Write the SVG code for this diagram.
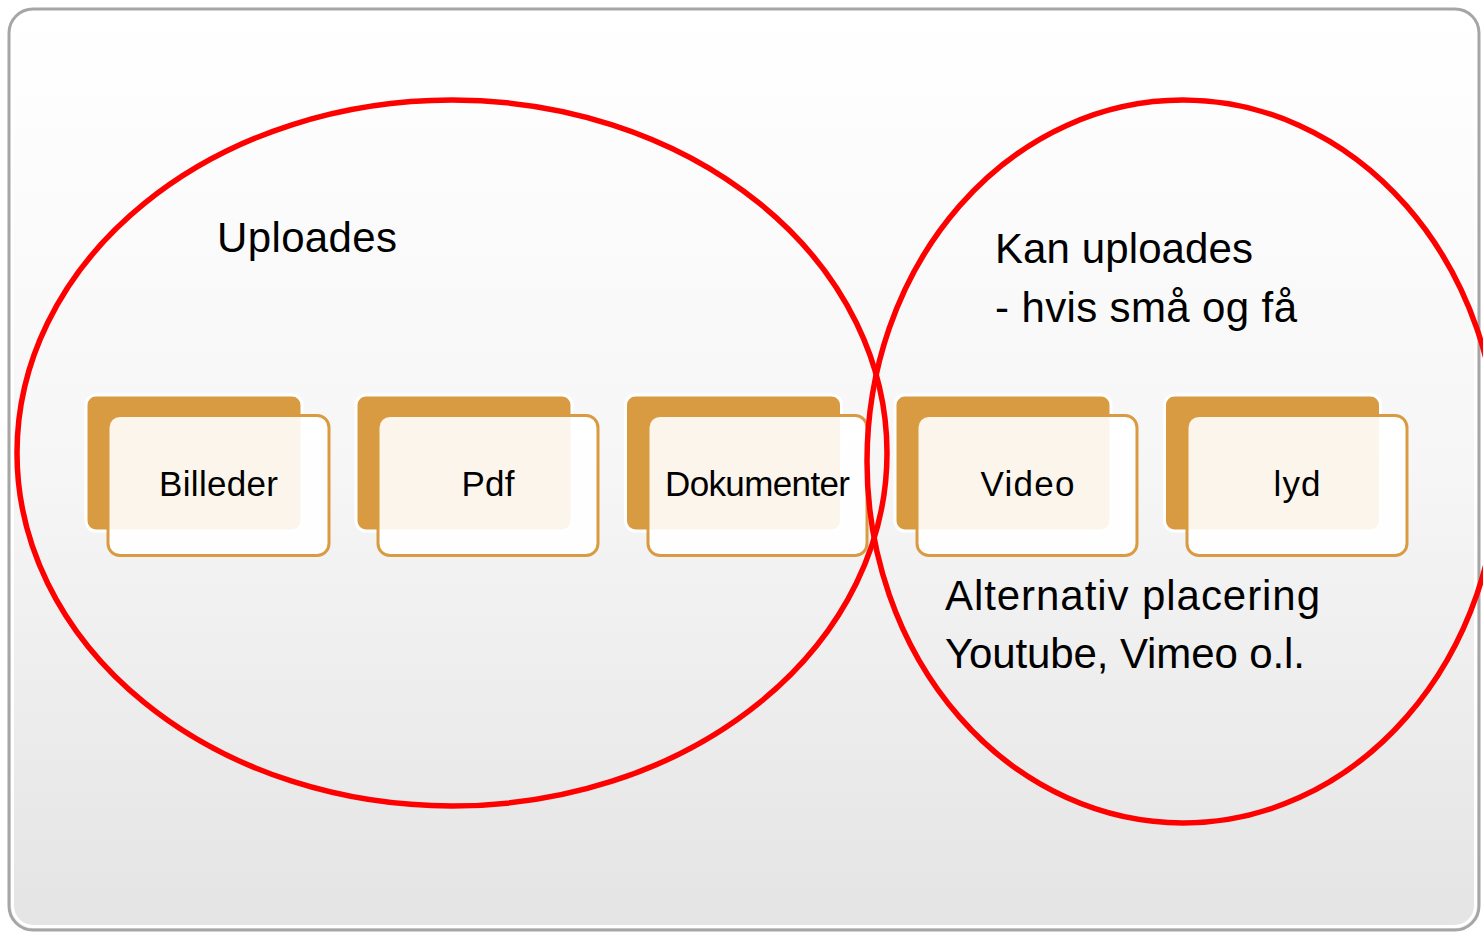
<svg xmlns="http://www.w3.org/2000/svg" width="1483" height="935" viewBox="0 0 1483 935">
<style>
.back{fill:#D99B41;stroke:#ffffff;stroke-width:3}
.front{fill:#ffffff;fill-opacity:0.9;stroke:#D99B41;stroke-width:3}
.lbl{font-family:"Liberation Sans",Arial,sans-serif;font-size:35px;fill:#000;text-anchor:middle}
.big{font-family:"Liberation Sans",Arial,sans-serif;font-size:42px;fill:#000}
.ring{fill:none;stroke:#FF0000;stroke-width:5.5}
</style>
<defs>
<linearGradient id="bg" x1="0" y1="0" x2="0" y2="1">
<stop offset="0" stop-color="#ffffff"/>
<stop offset="0.5" stop-color="#f6f6f6"/>
<stop offset="1" stop-color="#e4e4e4"/>
</linearGradient>
</defs>
<rect x="0" y="0" width="1483" height="935" fill="#ffffff"/>
<g id="frame">
<rect x="9" y="9" width="1470" height="921" rx="24" fill="url(#bg)" stroke="#a6a6a6" stroke-width="3"/>
<rect x="12.5" y="12.5" width="1463" height="914" rx="21" fill="none" stroke="#ffffff" stroke-width="3"/>
</g>
<g id="node-billeder">
<rect class="back" x="86" y="395" width="216" height="136" rx="10"/>
<rect class="front" x="108" y="415.5" width="221" height="140" rx="12"/>
<text class="lbl" x="218.5" y="496" textLength="119">Billeder</text>
</g>
<g id="node-pdf">
<rect class="back" x="356" y="395" width="216" height="136" rx="10"/>
<rect class="front" x="378" y="415.5" width="220" height="140" rx="12"/>
<text class="lbl" x="488" y="496" textLength="53">Pdf</text>
</g>
<g id="node-dokumenter">
<rect class="back" x="625.5" y="395" width="216" height="136" rx="10"/>
<rect class="front" x="648" y="415.5" width="219" height="140" rx="12"/>
<text class="lbl" x="757.5" y="496" textLength="185">Dokumenter</text>
</g>
<g id="node-video">
<rect class="back" x="895" y="395" width="216" height="136" rx="10"/>
<rect class="front" x="917" y="415.5" width="220" height="140" rx="12"/>
<text class="lbl" x="1027.5" y="496" textLength="94">Video</text>
</g>
<g id="node-lyd">
<rect class="back" x="1164.5" y="395" width="216" height="136" rx="10"/>
<rect class="front" x="1187" y="415.5" width="220" height="140" rx="12"/>
<text class="lbl" x="1297" y="496" textLength="47">lyd</text>
</g>
<g id="node-uploades-set">
<ellipse class="ring" cx="452" cy="453" rx="435" ry="353"/>
<text class="big" x="217" y="252" textLength="180">Uploades</text>
</g>
<g id="node-kan-uploades-set">
<ellipse class="ring" cx="1183" cy="461.5" rx="316" ry="361.5"/>
<text class="big" x="995" y="263" textLength="258">Kan uploades</text>
<text class="big" x="995" y="322" textLength="302">- hvis små og få</text>
<text class="big" x="945" y="610" textLength="375">Alternativ placering</text>
<text class="big" x="945" y="668" textLength="360">Youtube, Vimeo o.l.</text>
</g>
<g id="connectors"></g>
</svg>
